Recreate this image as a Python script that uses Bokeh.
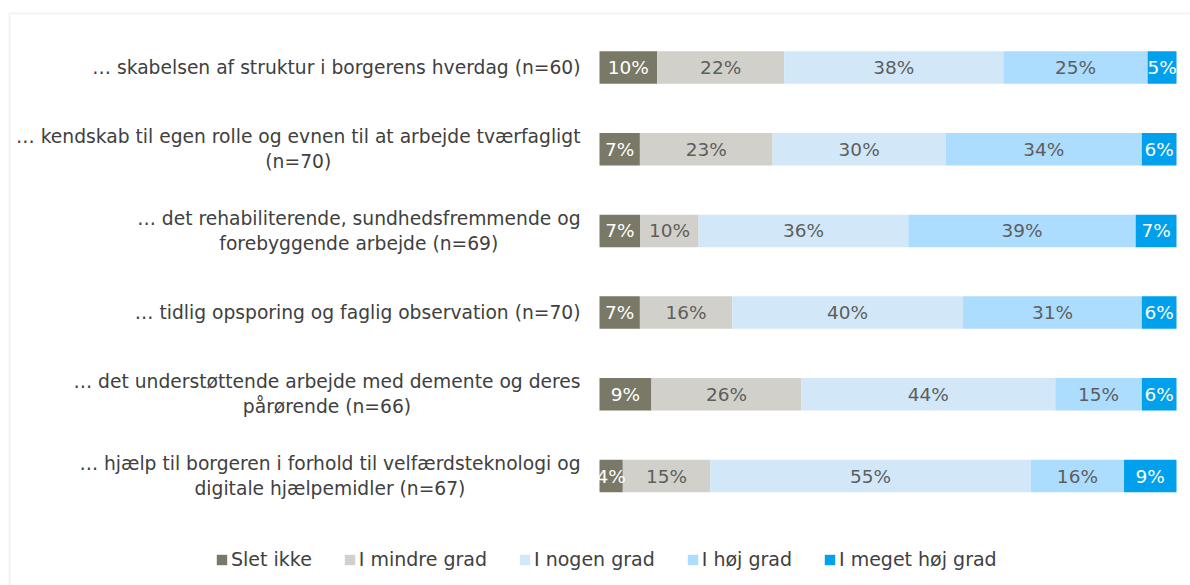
from bokeh.plotting import figure
from bokeh.models import ColumnDataSource, Range1d, BoxAnnotation
from bokeh.core.properties import value
from bokeh.embed import file_html
from bokeh.resources import INLINE

categories = [
    "\u2026 skabelsen af struktur i borgerens hverdag (n=60)",
    "\u2026 kendskab til egen rolle og evnen til at arbejde tværfagligt\n(n=70)",
    "\u2026 det rehabiliterende, sundhedsfremmende og\nforebyggende arbejde (n=69)",
    "\u2026 tidlig opsporing og faglig observation (n=70)",
    "\u2026 det understøttende arbejde med demente og deres\npårørende (n=66)",
    "\u2026 hjælp til borgeren i forhold til velfærdsteknologi og\ndigitale hjælpemidler (n=67)",
]
series = ["Slet ikke", "I mindre grad", "I nogen grad", "I høj grad", "I meget høj grad"]
slet_ikke = [10, 7, 7, 7, 9, 4]
i_mindre_grad = [22, 23, 10, 16, 26, 15]
i_nogen_grad = [38, 30, 36, 40, 44, 55]
i_hoej_grad = [25, 34, 39, 31, 15, 16]
i_meget_hoej_grad = [5, 6, 7, 6, 6, 9]
values = [slet_ikke, i_mindre_grad, i_nogen_grad, i_hoej_grad, i_meget_hoej_grad]

colors = ["#7a7866", "#d1d0ca", "#d2e8f8", "#acdcfe", "#00a0ec"]
label_colors = ["white", "#5e5e5e", "#5e5e5e", "#5e5e5e", "white"]
FONT = "DejaVu Sans"

n = len(categories)
rows = list(range(n))
totals = [sum(v[i] for v in values) for i in rows]

data = {"y": rows}
for name, vals in zip(series, values):
    data[name] = [vals[i] / totals[i] for i in rows]
source = ColumnDataSource(data)

W, H = 1190, 585
# pixel mapping: bar 0..1 spans x 599..1176, rows spaced 81.7px, first at y 67
px_per_x = 577.0
x_start = -599 / px_per_x
x_end = x_start + W / px_per_x
px_per_row = 81.7
y_top = -67 / px_per_row
y_bottom = y_top + H / px_per_row

p = figure(width=W, height=H, output_backend="svg", toolbar_location=None,
           x_range=Range1d(x_start, x_end), y_range=Range1d(y_bottom, y_top),
           min_border=0, min_border_left=0, min_border_right=0,
           min_border_top=0, min_border_bottom=0)
p.outline_line_color = None
p.axis.visible = False
p.grid.visible = False
p.background_fill_color = "white"
p.border_fill_color = "white"

p.hbar_stack(series, y="y", height=32.5 / px_per_row, color=colors,
             line_color=None, source=source, legend_label=series)

# data labels centered in each segment
lx, ly, lt, lc = [], [], [], []
for i in rows:
    cum = 0.0
    for k, name in enumerate(series):
        w = data[name][i]
        lx.append(cum + w / 2)
        ly.append(i)
        lt.append(f"{values[k][i]}%")
        lc.append(label_colors[k])
        cum += w
p.text(x=lx, y=ly, text=lt, text_color=lc, text_align="center",
       text_baseline="middle", text_font=value(FONT), text_font_size="18.5px")

# category labels
cat_x = -(599 - 580) / px_per_x
p.text(x=[cat_x] * n, y=rows, text=categories, text_align="center",
       anchor="center_right", text_baseline="middle",
       text_font=value(FONT), text_font_size="18.7px", text_color="#404040",
       text_line_height=1.2)

# chart border (only top and left visible in the reference)
p.add_layout(BoxAnnotation(left=x_start + 9 / px_per_x, right=x_end + 1,
                           top=y_top + 13 / px_per_row, bottom=y_bottom + 1,
                           fill_alpha=0, line_color="#d4d4ce", line_width=2))

leg = p.legend[0]
leg.orientation = "horizontal"
leg.location = (215, 15)
leg.glyph_width = 13
leg.glyph_height = 13
leg.label_standoff = 3
leg.spacing = 31
leg.padding = 0
leg.margin = 0
leg.border_line_color = None
leg.background_fill_alpha = 0
leg.label_text_font = FONT
leg.label_text_font_size = "19px"
leg.label_text_color = "#404040"

open("out.html", "w").write(file_html(p, INLINE))
